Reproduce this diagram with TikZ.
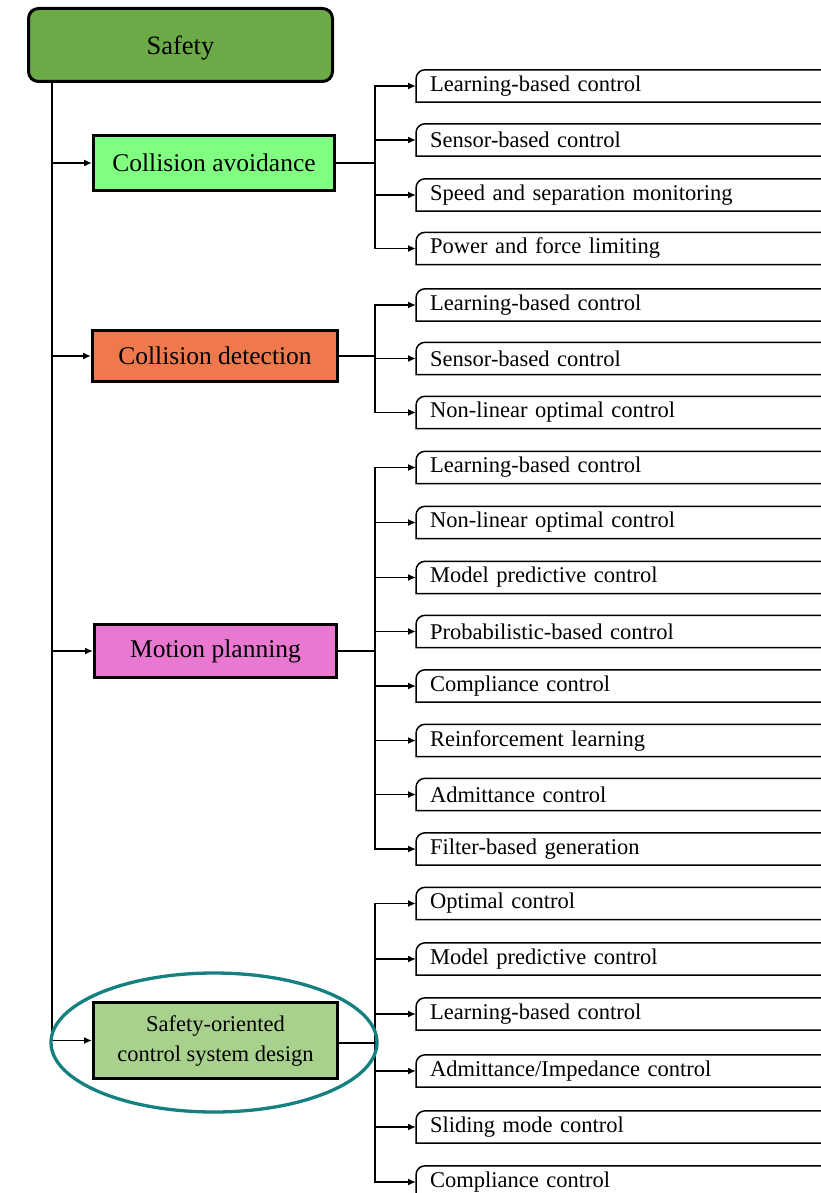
\documentclass[tikz,border=0pt]{standalone}
\usepackage{fontspec}
\setmainfont{Liberation Serif}
\usetikzlibrary{arrows.meta,positioning}

\definecolor{safetygreen}{RGB}{108,170,72}
\definecolor{cagreen}{RGB}{128,255,128}
\definecolor{cdorange}{RGB}{239,120,77}
\definecolor{mppink}{RGB}{232,120,208}
\definecolor{sogreen}{RGB}{169,209,142}
\definecolor{hlteal}{RGB}{20,128,128}

\begin{document}
\begin{tikzpicture}[x=1pt,y=-1pt,
	topic/.style={draw=black, line width=3pt, inner sep=0pt, font=\fontsize{25.5}{28}\selectfont},
	leaf/.style={anchor=west, text width=380pt, inner xsep=14pt, inner ysep=0pt, minimum height=32pt, align=left, font=\fontsize{22.5}{24}\selectfont},
	leafline/.style={line width=1.5pt},
	arr/.style={-{Latex[length=8pt,width=7pt]}, line width=1.6pt}]
	\useasboundingbox (0,0) rectangle (821,1193);
	% topics
	\node[topic, fill=safetygreen, rounded corners=10pt, minimum width=304pt, minimum height=73pt, font=\fontsize{26.5}{30}\selectfont] (safety) at (180.5,45) {\raisebox{-3pt}[\height][\depth]{Safety}};
	\node[topic, fill=cagreen, minimum width=241pt, minimum height=55pt] (ca) at (214,163) {Collision avoidance};
	\node[topic, fill=cdorange, minimum width=245pt, minimum height=51pt] (cd) at (215,356) {Collision detection};
	\node[topic, fill=mppink, minimum width=242pt, minimum height=53pt] (mp) at (215.5,651) {Motion planning};
	\node[topic, fill=sogreen, minimum width=244pt, minimum height=76pt, align=center, font=\fontsize{22.5}{30}\selectfont] (so) at (215.5,1040.5) {Safety-oriented\\control system design};
	%
	\node[leaf] (ca1) at (416,86) {Learning-based control};
	\node[leaf] (ca2) at (416,140) {Sensor-based control};
	\node[leaf] (ca3) at (416,195) {Speed and separation monitoring};
	\node[leaf] (ca4) at (416,248.5) {Power and force limiting};
	%
	\node[leaf] (cd1) at (416,305) {Learning-based control};
	\node[leaf] (cd2) at (416,358.5) {Sensor-based control};
	\node[leaf] (cd3) at (416,412.5) {Non-linear optimal control};
	%
	\node[leaf] (mp1) at (416,467.5) {Learning-based control};
	\node[leaf] (mp2) at (416,522.5) {Non-linear optimal control};
	\node[leaf] (mp3) at (416,577.5) {Model predictive control};
	\node[leaf] (mp4) at (416,631.5) {Probabilistic-based control};
	\node[leaf] (mp5) at (416,686) {Compliance control};
	\node[leaf] (mp6) at (416,740.5) {Reinforcement learning};
	\node[leaf] (mp7) at (416,794.5) {Admittance control};
	\node[leaf] (mp8) at (416,849) {Filter-based generation};
	%
	\node[leaf] (so1) at (416,903.5) {Optimal control};
	\node[leaf] (so2) at (416,959) {Model predictive control};
	\node[leaf] (so3) at (416,1014) {Learning-based control};
	\node[leaf] (so4) at (416,1071) {Admittance/Impedance control};
	\node[leaf] (so5) at (416,1127) {Sliding mode control};
	\node[leaf] (so6) at (416,1182) {Compliance control};
	%
	\foreach \n in {ca1,ca2,ca3,ca4,cd1,cd2,cd3,mp1,mp2,mp3,mp4,mp5,mp6,mp7,mp8,so1,so2,so3,so4,so5,so6}
		\draw[leafline] ([yshift=-9pt]\n.north west) arc[start angle=180,end angle=90,radius=9pt] -- ([xshift=8pt]\n.north east) -- ([xshift=8pt,yshift=9pt]\n.south east) arc[start angle=0,end angle=-90,radius=9pt] -- (\n.south west) -- cycle;
	% trunk
	\coordinate (top) at (52,82);
	\draw[line width=2pt] (top) -- (top |- so.west);
	\draw[arr] (top |- ca.west) -- (ca.west);
	\draw[arr] (top |- cd.west) -- (cd.west);
	\draw[arr] (top |- mp.west) -- (mp.west);
	\draw[arr] (top |- so.west) -- (so.west);
	% branches
	\coordinate (caj) at (375,163);
	\coordinate (cdj) at (375,356);
	\coordinate (mpj) at (375,651);
	\coordinate (soj) at (375,1043);
	\draw[line width=1.6pt] (ca.east) -- (caj);
	\draw[line width=1.6pt] (cd.east) -- (cdj);
	\draw[line width=1.6pt] (mp.east) -- (mpj);
	\draw[line width=1.6pt] (so.east |- soj) -- (soj);
	\foreach \n in {ca1,ca2,ca3,ca4} \draw[arr] (caj) |- (\n.west);
	\foreach \n in {cd1,cd2,cd3} \draw[arr] (cdj) |- (\n.west);
	\foreach \n in {mp1,mp2,mp3,mp4,mp5,mp6,mp7,mp8} \draw[arr] (mpj) |- (\n.west);
	\foreach \n in {so1,so2,so3,so4,so5,so6} \draw[arr] (soj) |- (\n.west);
	% highlight
	\draw[hlteal, line width=3.3pt] (214,1042.5) ellipse [x radius=163pt, y radius=69.5pt];
\end{tikzpicture}
\end{document}
